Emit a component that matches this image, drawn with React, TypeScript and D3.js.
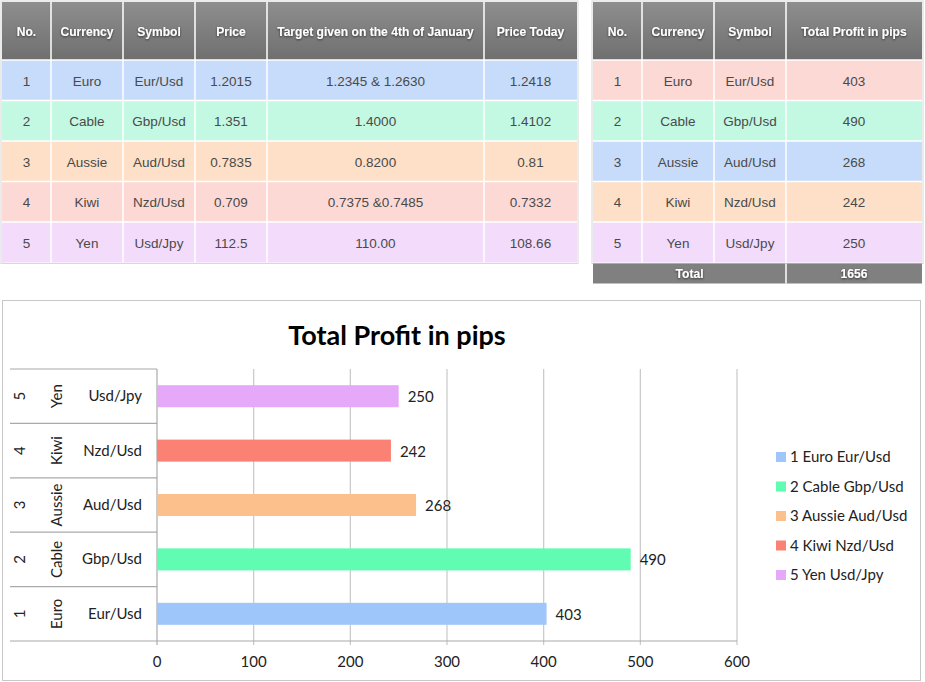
import React from "react";
import * as d3 from "d3";

const nums = ["1", "2", "3", "4", "5"];
const currencies = ["Euro", "Cable", "Aussie", "Kiwi", "Yen"];
const symbols = ["Eur/Usd", "Gbp/Usd", "Aud/Usd", "Nzd/Usd", "Usd/Jpy"];
const prices = ["1.2015", "1.351", "0.7835", "0.709", "112.5"];
const targets = ["1.2345 & 1.2630", "1.4000", "0.8200", "0.7375 &0.7485", "110.00"];
const pricesToday = ["1.2418", "1.4102", "0.81", "0.7332", "108.66"];
const profits = [403, 490, 268, 242, 250];
const totalLabel = "1656";
const xTicks = [0, 100, 200, 300, 400, 500, 600];

const leftHeaders = ["No.", "Currency", "Symbol", "Price", "Target given on the 4th of January", "Price Today"];
const rightHeaders = ["No.", "Currency", "Symbol", "Total Profit in pips"];

const leftRowColors = ["#c7dcfb", "#c3f8e3", "#fde0c7", "#fdd9d5", "#f3dbfc"];
const rightRowColors = ["#fdd9d5", "#c3f8e3", "#c7dcfb", "#fde0c7", "#f3dbfc"];
const barColors = ["#9fc6fa", "#5ffcb1", "#fbc08b", "#fa8173", "#e6a9fa"];

const TF = "'Liberation Sans', Arial, sans-serif";
const CF = "Lato, 'Open Sans', sans-serif";

function Table({ edges, headers, rows, colors, top, headerH, rowH }: any) {
  const x0 = edges[0];
  const x1 = edges[edges.length - 1];
  return (
    <g>
      <rect x={x0 - 1} y={top - 1} width={x1 - x0 + 2} height={headerH + rowH * rows.length + 2} fill="none" stroke="#d8d8d8" />
      <rect x={x0} y={top} width={x1 - x0} height={headerH} fill="url(#hdrGrad)" />
      {headers.map((h: string, i: number) => (
        <text key={"h" + i} x={(edges[i] + edges[i + 1]) / 2} y={top + headerH / 2 + 5} textAnchor="middle"
          fontFamily={TF} fontSize={12.1} fontWeight="bold" fill="#fff" filter="url(#tshadow)">{h}</text>
      ))}
      {rows.map((r: string[], ri: number) => (
        <g key={"r" + ri}>
          <rect x={x0} y={top + headerH + ri * rowH} width={x1 - x0} height={rowH} fill={colors[ri]} />
          {r.map((c: string, ci: number) => (
            <text key={ci} x={(edges[ci] + edges[ci + 1]) / 2} y={top + headerH + ri * rowH + rowH / 2 + 5.5}
              textAnchor="middle" fontFamily={TF} fontSize={13.5} fill="#4a4a4a">{c}</text>
          ))}
        </g>
      ))}
      {edges.slice(1, -1).map((e: number, i: number) => (
        <line key={"v" + i} x1={e} x2={e} y1={top} y2={top + headerH + rowH * rows.length} stroke="#fff" strokeWidth={1.5} />
      ))}
      {rows.map((_: any, ri: number) => (
        <line key={"hl" + ri} x1={x0} x2={x1} y1={top + headerH + ri * rowH} y2={top + headerH + ri * rowH} stroke="#fff" strokeWidth={1.5} />
      ))}
    </g>
  );
}

export default function App() {
  const leftEdges = [2, 51, 123, 195, 267, 484, 577];
  const rightEdges = [593, 642, 714, 786, 922];
  const top = 2;
  const headerH = 58;
  const rowH = 40.5;

  const leftRows = nums.map((n, i) => [n, currencies[i], symbols[i], prices[i], targets[i], pricesToday[i]]);
  const rightRows = nums.map((n, i) => [n, currencies[i], symbols[i], String(profits[i])]);
  const totalY = top + headerH + rowH * 5 + 1;

  const x = d3.scaleLinear().domain([0, 600]).range([157, 737]);
  const y = d3.scaleBand().domain([...nums].reverse()).range([369, 641]).paddingInner(0).paddingOuter(0);
  const barH = 22;
  const catLeft = 10;

  return (
    <svg width={925} height={682} style={{ position: "absolute", left: 0, top: 0, background: "#fff" }}>
      <defs>
        <linearGradient id="hdrGrad" x1="0" y1="0" x2="0" y2="1">
          <stop offset="0" stopColor="#8e8e8e" />
          <stop offset="1" stopColor="#6f6f6f" />
        </linearGradient>
        <filter id="tshadow" x="-20%" y="-50%" width="140%" height="200%">
          <feDropShadow dx="0" dy="1" stdDeviation="1" floodColor="#000" floodOpacity="0.6" />
        </filter>
      </defs>

      <Table edges={leftEdges} headers={leftHeaders} rows={leftRows} colors={leftRowColors} top={top} headerH={headerH} rowH={rowH} />
      <Table edges={rightEdges} headers={rightHeaders} rows={rightRows} colors={rightRowColors} top={top} headerH={headerH} rowH={rowH} />

      <rect x={rightEdges[0]} y={totalY} width={rightEdges[4] - rightEdges[0]} height={20} fill="#808080" />
      <line x1={rightEdges[3]} x2={rightEdges[3]} y1={totalY} y2={totalY + 20} stroke="#fff" strokeWidth={1.5} />
      <text x={(rightEdges[0] + rightEdges[3]) / 2} y={totalY + 14} textAnchor="middle" fontFamily={TF} fontSize={12.1} fontWeight="bold" fill="#fff" filter="url(#tshadow)">Total</text>
      <text x={(rightEdges[3] + rightEdges[4]) / 2} y={totalY + 14} textAnchor="middle" fontFamily={TF} fontSize={12.1} fontWeight="bold" fill="#fff" filter="url(#tshadow)">{totalLabel}</text>

      {/* Chart */}
      <rect x={2.5} y={300.5} width={918} height={380} fill="#fff" stroke="#c8c8c8" />
      <text x={397} y={345} textAnchor="middle" fontFamily={CF} fontSize={27} fontWeight="bold" fill="#000">Total Profit in pips</text>

      {xTicks.map((t) => (
        <g key={"g" + t}>
          {t > 0 && <line x1={x(t)} x2={x(t)} y1={369} y2={645} stroke="#c8c8c8" strokeWidth={1.2} />}
          <text x={x(t)} y={667} textAnchor="middle" fontFamily={CF} fontSize={15} fill="#222">{t}</text>
        </g>
      ))}
      <line x1={x(0)} x2={x(0)} y1={369} y2={645} stroke="#aaa" strokeWidth={1.2} />
      <line x1={catLeft} x2={x(600)} y1={641} y2={641} stroke="#aaa" strokeWidth={1.2} />
      {nums.map((n) => (
        <line key={"sep" + n} x1={catLeft} x2={x(0)} y1={y(n)!} y2={y(n)!} stroke="#aaa" strokeWidth={1.2} />
      ))}

      {nums.map((n, i) => {
        const cy = y(n)! + y.bandwidth() / 2;
        return (
          <g key={"bar" + n}>
            <rect x={x(0)} y={cy - barH / 2} width={x(profits[i]) - x(0)} height={barH} fill={barColors[i]} />
            <text x={x(profits[i]) + 9} y={cy + 6} fontFamily={CF} fontSize={15} fill="#222">{profits[i]}</text>
            <text x={142} y={cy + 5} textAnchor="end" fontFamily={CF} fontSize={15} fill="#222">{symbols[i]}</text>
            <text transform={`translate(62,${cy}) rotate(-90)`} textAnchor="middle" fontFamily={CF} fontSize={15} fill="#222">{currencies[i]}</text>
            <text transform={`translate(25,${cy}) rotate(-90)`} textAnchor="middle" fontFamily={CF} fontSize={15} fill="#222">{n}</text>
          </g>
        );
      })}

      {nums.map((n, i) => (
        <g key={"leg" + n}>
          <rect x={776} y={452 + i * 29.5} width={10} height={10} fill={barColors[i]} />
          <text x={790} y={462 + i * 29.5} fontFamily={CF} fontSize={15} fill="#222">{`${n} ${currencies[i]} ${symbols[i]}`}</text>
        </g>
      ))}
    </svg>
  );
}
